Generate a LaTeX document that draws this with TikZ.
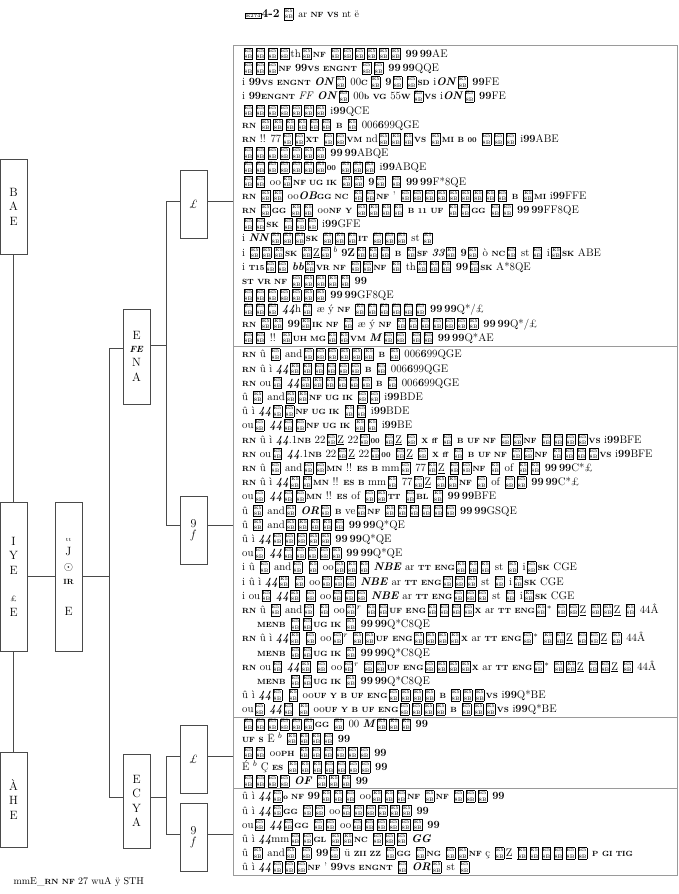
\documentclass[tikz,border=0pt]{standalone}
\usepackage{tikz}
\usetikzlibrary{positioning, calc}
\definecolor{wiregray}{HTML}{4A4A4A}
\definecolor{framegray}{HTML}{9A9A9A}
\setlength{\fboxsep}{0.5pt}
\setlength{\fboxrule}{0.45pt}
% tofu glyph box and small odd glyphs
\newcommand{\tf}{\kern1.5pt\raisebox{-1.5pt}{\fbox{\makebox[7.2pt]{\fontsize{5}{5}\selectfont\shortstack{E5\\8B}}}}\kern1.5pt}
\newcommand{\sm}[1]{{\fontsize{7.5}{7.5}\selectfont\textbf{#1}}}
\newcommand{\bi}[1]{\textbf{\textit{#1}}}

\begin{document}
\begin{tikzpicture}[
    x=1pt, y=-1pt,
    leaf/.style={rectangle, draw=wiregray, line width=0.8pt, minimum width=27pt, inner sep=0pt, align=center, font=\fontsize{12}{14.5}\selectfont},
    sect/.style={rectangle, draw=framegray, line width=0.9pt, minimum width=444pt, anchor=north west, inner sep=0pt},
    lines/.style={anchor=west, align=left, inner sep=0pt, font=\fontsize{11}{14.2}\selectfont},
    wire/.style={draw=wiregray, line width=0.8pt}
]
    \useasboundingbox (0,0) rectangle (678,894);

    % caption
    \node (cap) at (302,14) {\fbox{\fontsize{5}{5}\selectfont E274}{\large\textbf{4-2}} \tf\ ar \sm{NF} \sm{VS} nt \"e};

    % tree boxes
    \node[leaf, minimum height=95pt] (bae) at (13.5,206.5) {B\\A\\E};
    \node[leaf, minimum height=149pt] (lye) at (13.5,576.5) {I\\Y\\E\\[13pt]{\footnotesize\pounds}\\E};
    \node[leaf, minimum height=95pt] (ahe) at (13.5,799.5) {\`A\\H\\E};
    \node[leaf, minimum height=149pt] (ttj) at (68.5,576.5) {{\tiny tt}\\J\\$\odot$\\\sm{IR}\\[16pt]E};
    \node[leaf, minimum height=95pt] (efe) at (136.5,356.5) {E\\[-2pt]{\small\bi{FE}}\\N\\A};
    \node[leaf, minimum height=94pt] (ecy) at (136.5,801) {E\\C\\Y\\A};
    \node[leaf, minimum height=68pt] (pa) at (193.5,204) {\textit{\pounds}};
    \node[leaf, minimum height=68pt] (fa) at (193.5,530) {9\\[-3pt]\textit{f}};
    \node[leaf, minimum height=68pt] (pb) at (193.5,759) {\textit{\pounds}};
    \node[leaf, minimum height=68pt] (fb) at (193.5,837) {9\\[-3pt]\textit{f}};

    % sections of the table
    \node[sect, minimum height=301pt] (sec1) at (233,45) {};
    \node[sect, minimum height=371pt] (sec2) at (233,346) {};
    \node[sect, minimum height=71pt] (sec3) at (233,717) {};
    \node[sect, minimum height=87pt] (sec4) at (233,788) {};

    \node[lines] (txt1) at ([xshift=9pt]sec1.west) {%
\tf\tf\tf\tf th\tf\sm{NF} \tf\tf\tf\tf\tf\tf\ \textbf{99}\,\textbf{99}AE\\
\tf\tf\tf\sm{NF} \textbf{99}\sm{VS} \sm{ENGNT} \tf\tf\ \textbf{99}\,\textbf{99}QQE\\
i \textbf{99}\sm{VS} \sm{ENGNT} \bi{ON}\tf\ 00\sm{C}\,\tf\ \textbf{9}\tf\,\tf\sm{SD} i\bi{ON}\tf\ \textbf{99}FE\\
i \textbf{99}\sm{ENGNT} \textit{FF} \bi{ON}\tf\ 00\sm{b} \sm{VG} 55\sm{W}\,\tf\sm{VS} i\bi{ON}\tf\ \textbf{99}FE\\
\tf\tf\tf\tf\tf\tf\tf\ i\textbf{99}QCE\\
\sm{RN} \tf\tf\tf\tf\tf\tf\ \sm{B} \tf\ 006\textbf{6}99QGE\\
\sm{RN} !! 77\tf\tf\sm{XT} \tf\tf\sm{VM} nd\tf\tf\tf\sm{VS} \tf\sm{MI} \sm{B} \sm{00} \tf\tf\tf\ i\textbf{99}ABE\\
\tf\tf\tf\tf\tf\tf\tf\ \textbf{99}\,\textbf{99}ABQE\\
\tf\tf\tf\tf\tf\tf\tf\sm{00} \tf\tf\tf\ i\textbf{99}ABQE\\
\tf\tf\ oo\tf\sm{NF UG IK} \tf\tf\ \textbf{9}\tf\ \tf\ \textbf{99}\,\textbf{99}F*8QE\\
\sm{RN} \tf\tf\ oo\bi{OB}\sm{GG NC} \tf\tf\sm{NF} ' \tf\tf\tf\tf\tf\tf\tf\tf\tf\ \sm{B} \tf\sm{MI} i\textbf{99}FFE\\
\sm{RN} \tf\sm{GG} \tf\tf\ oo\sm{NF} \sm{Y} \tf\tf\tf\tf\ \sm{B} \sm{11} \sm{UF} \tf\tf\sm{GG} \tf\tf\ \textbf{99}\,\textbf{99}FF8QE\\
\tf\tf\sm{SK} \tf\tf\tf\ i\textbf{99}GFE\\
i \bi{NN}\tf\tf\tf\sm{SK} \tf\tf\tf\sm{IT} \tf\tf\tf\ st\,\tf\\
i \tf\tf\tf\sm{SK} \tf\underline{Z}\tf\,$^b$ \textbf{9Z}\tf\tf\tf\ \sm{B} \tf\sm{SF} \bi{33}\tf\ \textbf{9}\tf\ \`o \sm{NC}\tf\ st\,\tf\ i\tf\sm{SK} ABE\\
i \sm{T15}\tf\tf\ \bi{bb}\tf\sm{VR NF} \tf\tf\sm{NF} \tf\ th\tf\tf\tf\ \textbf{99}\tf\sm{SK} A*8QE\\
\sm{ST} \sm{VR NF} \tf\tf\tf\tf\tf\ \textbf{99}\\
\tf\tf\tf\tf\tf\tf\tf\ \textbf{99}\,\textbf{99}GF8QE\\
\tf\tf\tf\ \bi{44}h\tf\ \ae\ \'y \sm{NF} \tf\tf\tf\tf\tf\tf\ \textbf{99}\,\textbf{99}Q*/\pounds\\
\sm{RN} \tf\tf\ \textbf{99}\tf\sm{IK NF} \tf\ \ae\ \'y \sm{NF} \tf\tf\tf\tf\tf\tf\tf\ \textbf{99}\,\textbf{99}Q*/\pounds\\
\tf\tf\ !! \tf\sm{UH MG}\tf\tf\sm{VM} \bi{M}\tf\tf\ \tf\tf\ \textbf{99}\,\textbf{99}Q*AE};

    \node[lines] (txt2) at ([xshift=9pt]sec2.west) {%
\sm{RN} \^u \tf\ and\tf\tf\tf\tf\tf\tf\ \sm{B} \tf\ 006\textbf{6}99QGE\\
\sm{RN} \^u \`i \bi{44}\tf\tf\tf\tf\tf\tf\ \sm{B} \tf\ 006\textbf{6}99QGE\\
\sm{RN} ou\tf\ \bi{44}\tf\tf\tf\tf\tf\tf\ \sm{B} \tf\ 006\textbf{6}99QGE\\
\^u \tf\ and\tf\tf\sm{NF UG IK} \tf\tf\ i\textbf{99}BDE\\
\^u \`i \bi{44}\tf\tf\sm{NF UG IK} \tf\tf\ i\textbf{99}BDE\\
ou\tf\ \bi{44}\tf\tf\sm{NF UG IK} \tf\tf\ i\textbf{99}BE\\
\sm{RN} \^u \`i \bi{44}.1\sm{NB} 22\tf\underline{Z}\ 22\tf\sm{00} \tf\underline{Z}\ \tf\ \sm{X} \sm{ff} \tf\ \sm{B} \sm{UF NF} \tf\tf\sm{NF} \tf\tf\tf\tf\sm{VS} i\textbf{99}BFE\\
\sm{RN} ou\tf\ \bi{44}.1\sm{NB} 22\tf\underline{Z}\ 22\tf\sm{00} \tf\underline{Z}\ \tf\ \sm{X} \sm{ff} \tf\ \sm{B} \sm{UF NF} \tf\tf\sm{NF} \tf\tf\tf\tf\sm{VS} i\textbf{99}BFE\\
\sm{RN} \^u \tf\ and\tf\tf\sm{MN} !! \sm{ES} \sm{B} mm\tf\ 77\tf\underline{Z}\ \tf\tf\sm{NF} \tf\ of \tf\tf\ \textbf{99}\,\textbf{99}C*\pounds\\
\sm{RN} \^u \`i \bi{44}\tf\tf\sm{MN} !! \sm{ES} \sm{B} mm\tf\ 77\tf\underline{Z}\ \tf\tf\sm{NF} \tf\ of \tf\tf\ \textbf{99}\,\textbf{99}C*\pounds\\
ou\tf\ \bi{44}\tf\tf\sm{MN} !! \sm{ES} of \tf\tf\sm{TT} \tf\sm{BL} \tf\ \textbf{99}\,\textbf{99}BFE\\
\^u \tf\ and\tf\ \bi{OR}\tf\ \sm{B} ve\tf\sm{NF} \tf\tf\tf\tf\tf\tf\ \textbf{99}\,\textbf{99}GSQE\\
\^u \tf\ and\tf\tf\tf\tf\tf\ \textbf{99}\,\textbf{99}Q*QE\\
\^u \`i \bi{44}\tf\tf\tf\tf\tf\ \textbf{99}\,\textbf{99}Q*QE\\
ou\tf\ \bi{44}\tf\tf\tf\tf\tf\ \textbf{99}\,\textbf{99}Q*QE\\
i \^u \tf\ and\tf\ \tf\ oo\tf\tf\tf\ \bi{NBE} ar \sm{TT} \sm{ENG}\tf\tf\tf\ st \tf\ i\tf\sm{SK} CGE\\
i \^u \`i \bi{44}\tf\ \tf\ oo\tf\tf\tf\ \bi{NBE} ar \sm{TT} \sm{ENG}\tf\tf\tf\ st \tf\ i\tf\sm{SK} CGE\\
i ou\tf\ \bi{44}\tf\ \tf\ oo\tf\tf\tf\ \bi{NBE} ar \sm{TT} \sm{ENG}\tf\tf\tf\ st \tf\ i\tf\sm{SK} CGE\\
\sm{RN} \^u \tf\ and\tf\ \tf\ oo\tf$^r$ \tf\tf\sm{UF} \sm{ENG}\tf\tf\tf\tf\sm{X} ar \sm{TT} \sm{ENG}\tf$^*$ \tf\tf\underline{Z}\ \tf\tf\underline{Z}\ \tf\ 44\^A\\
\hspace*{15pt}\sm{MENB} \tf\tf\sm{UG IK} \tf\ \textbf{99}\,\textbf{99}Q*C8QE\\
\sm{RN} \^u \`i \bi{44}\tf\ \tf\ oo\tf$^r$ \tf\tf\sm{UF} \sm{ENG}\tf\tf\tf\tf\sm{X} ar \sm{TT} \sm{ENG}\tf$^*$ \tf\tf\underline{Z}\ \tf\tf\underline{Z}\ \tf\ 44\^A\\
\hspace*{15pt}\sm{MENB} \tf\tf\sm{UG IK} \tf\ \textbf{99}\,\textbf{99}Q*C8QE\\
\sm{RN} ou\tf\ \bi{44}\tf\ \tf\ oo\tf$^r$ \tf\tf\sm{UF} \sm{ENG}\tf\tf\tf\tf\sm{X} ar \sm{TT} \sm{ENG}\tf$^*$ \tf\tf\underline{Z}\ \tf\tf\underline{Z}\ \tf\ 44\^A\\
\hspace*{15pt}\sm{MENB} \tf\tf\sm{UG IK} \tf\ \textbf{99}\,\textbf{99}Q*C8QE\\
\^u \`i \bi{44}\tf\ \tf\ oo\sm{UF} \sm{Y} \sm{B} \sm{UF} \sm{ENG}\tf\tf\tf\tf\ \sm{B} \tf\tf\tf\sm{VS} i\textbf{99}Q*BE\\
ou\tf\ \bi{44}\tf\ \tf\ oo\sm{UF} \sm{Y} \sm{B} \sm{UF} \sm{ENG}\tf\tf\tf\tf\ \sm{B} \tf\tf\tf\sm{VS} i\textbf{99}Q*BE};

    \node[lines] (txt3) at ([xshift=9pt]sec3.west) {%
\tf\tf\tf\tf\tf\tf\sm{GG} \tf\ 00 \bi{M}\tf\tf\tf\ \textbf{99}\\
\sm{UF} \sm{S} \"E $^b$ \tf\tf\tf\tf\ \textbf{99}\\
\tf\tf\ oo\sm{PH} \tf\tf\tf\tf\tf\tf\ \textbf{99}\\
\'E $^b$ \c{C} \sm{ES} \tf\tf\tf\tf\tf\tf\tf\ \textbf{99}\\
\tf\tf\tf\tf\ \bi{OF} \tf\tf\tf\ \textbf{99}};

    \node[lines] (txt4) at ([xshift=9pt]sec4.west) {%
\^u \`i \bi{44}\tf\sm{o NF} \textbf{99}\tf\tf\tf\ oo\tf\tf\tf\sm{NF} \tf\sm{NF} \tf\tf\tf\ \textbf{99}\\
\^u \`i \bi{44}\tf\sm{GG} \tf\tf\ oo\tf\tf\tf\tf\tf\tf\ \textbf{99}\\
ou\tf\ \bi{44}\tf\sm{GG} \tf\tf\ oo\tf\tf\tf\tf\tf\tf\ \textbf{99}\\
\^u \`i \bi{44}mm\tf\tf\sm{GL} \tf\tf\sm{NC} \tf\tf\tf\ \bi{GG}\\
\^u \tf\ and\tf\ \tf\ \textbf{99}\tf\ \"u \sm{ZII ZZ} \tf\sm{GG} \tf\sm{NG} \tf\tf\sm{NF} \c{c} \tf\underline{Z}\ \tf\tf\tf\tf\tf\tf\ \sm{P} \sm{GI TIG}\\
\^u \`i \bi{44}\tf\tf\tf\sm{NF} ' \textbf{99}\sm{VS} \sm{ENGNT} \tf\ \bi{OR}\tf\ st \tf};

    % footer
    \node[anchor=west] (foot) at (10,882) {mmE\_\sm{RN} \sm{NF} 27 wuA \"y STH};

    % connectors
    \draw[wire] (bae.south) -- (lye.north);
    \draw[wire] (lye.south) -- (ahe.north);
    \draw[wire] (lye.east) -- (ttj.west);
    \draw[wire] (ttj.east) -- ++(27,0) coordinate (jb);
    \draw[wire] ([yshift=8pt]efe.west) -| (jb) |- ([yshift=4pt]ecy.west);
    \draw[wire] ([yshift=11pt]efe.east) -- ++(16,0) coordinate (ja);
    \draw[wire] ([yshift=3pt]pa.west) -| (ja) |- ([yshift=5pt]fa.west);
    \draw[wire] ([yshift=4pt]ecy.east) -- ++(16,0) coordinate (jc);
    \draw[wire] ([yshift=3pt]pb.west) -| (jc) |- ([yshift=3pt]fb.west);
    \draw[wire] ([yshift=3pt]pa.east) -- ([yshift=3pt]pa.east -| sec1.west);
    \draw[wire] ([yshift=5pt]fa.east) -- ([yshift=5pt]fa.east -| sec2.west);
    \draw[wire] ([yshift=3pt]pb.east) -- ([yshift=3pt]pb.east -| sec3.west);
    \draw[wire] ([yshift=3pt]fb.east) -- ([yshift=3pt]fb.east -| sec4.west);
\end{tikzpicture}
\end{document}
